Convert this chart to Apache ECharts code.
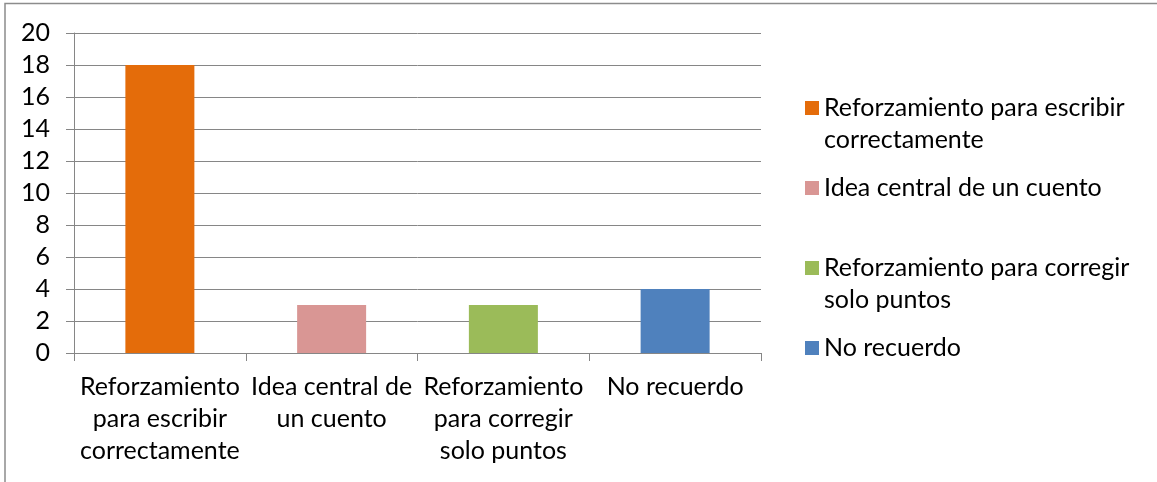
<!DOCTYPE html>
<html>
<head>
<meta charset="utf-8">
<script src="https://cdn.jsdelivr.net/npm/echarts@6/dist/echarts.min.js"></script>
<style>
  html, body { margin: 0; padding: 0; background: #fff; }
  #chart { width: 1157px; height: 482px; }
</style>
</head>
<body>
<div id="chart"></div>
<script>
// datos del grafico
var categories = ['Reforzamiento\npara escribir\ncorrectamente', 'Idea central de\nun cuento', 'Reforzamiento\npara corregir\nsolo puntos', 'No recuerdo'];
var seriesNames = ['Reforzamiento para escribir correctamente', 'Idea central de un cuento', 'Reforzamiento para corregir solo puntos', 'No recuerdo'];
// leyenda: primera linea junto al cuadro, segunda linea debajo
var legendLine1 = ['Reforzamiento para escribir', 'Idea central de un cuento', 'Reforzamiento para corregir', 'No recuerdo'];
var legendLine2 = ['correctamente', '', 'solo puntos', ''];
var values = [18, 3, 3, 4];
var colors = ['#E46C0A', '#D99694', '#9BBB59', '#4F81BD'];

var FONT = 'Lato';
var FS = 25;
var LH = 32;
var LEG_LEFT = 805;
var LEG_ICON = 14;

var chart = echarts.init(document.getElementById('chart'));

// una serie por categoria, para que cada barra tenga su color y su leyenda
var series = [];
for (var i = 0; i < categories.length; i++) {
    var d = [];
    for (var j = 0; j < categories.length; j++) {
        d.push(i == j ? values[i] : '-');
    }
    series.push({
        name: seriesNames[i],
        type: 'bar',
        data: d,
        barWidth: 69,
        barGap: '-100%',
        itemStyle: { color: colors[i] },
        animation: false
    });
}

// leyendas separadas, una por elemento (centro del cuadro cada 80px)
var legendCenters = [108, 188, 268, 348];
var legends = [];
var graphics = [{
    type: 'rect',
    shape: { x: 5, y: 3.5, width: 1200, height: 600 },
    style: { fill: 'none', stroke: '#8c8c8c', lineWidth: 1.5 },
    silent: true
}];
for (var k = 0; k < seriesNames.length; k++) {
    legends.push({
        orient: 'vertical',
        left: LEG_LEFT,
        top: legendCenters[k] - LH / 2,
        padding: 0,
        itemWidth: LEG_ICON,
        itemHeight: LEG_ICON,
        icon: 'rect',
        selectedMode: false,
        data: [seriesNames[k]],
        formatter: (function (idx) {
            return function () { return legendLine1[idx]; };
        })(k),
        textStyle: { fontFamily: FONT, fontSize: FS, lineHeight: LH, color: '#000' }
    });
    if (legendLine2[k]) {
        graphics.push({
            type: 'text',
            left: LEG_LEFT + LEG_ICON + 5,
            top: legendCenters[k] + LH / 2,
            style: {
                text: legendLine2[k],
                fontFamily: FONT, fontSize: FS, lineHeight: LH,
                fill: '#000'
            },
            silent: true
        });
    }
}

var option = {
    backgroundColor: '#fff',
    animation: false,
    grid: { left: 74, top: 33, width: 687, height: 320 },
    legend: legends,
    xAxis: {
        type: 'category',
        data: categories,
        axisLine: { lineStyle: { color: '#868686', width: 1 } },
        axisTick: { show: true, length: 8, lineStyle: { color: '#868686' } },
        axisLabel: {
            margin: 18,
            fontFamily: FONT,
            fontSize: FS,
            lineHeight: LH,
            color: '#000',
            interval: 0,
            align: 'center'
        }
    },
    yAxis: {
        type: 'value',
        min: 0,
        max: 20,
        interval: 2,
        axisLine: { show: true, lineStyle: { color: '#868686', width: 1 } },
        axisTick: { show: true, length: 8, lineStyle: { color: '#868686' } },
        splitLine: { lineStyle: { color: '#868686', width: 1 } },
        axisLabel: {
            margin: 24,
            fontFamily: FONT,
            fontSize: FS,
            color: '#000'
        }
    },
    graphic: graphics,
    series: series
};

chart.setOption(option);
</script>
</body>
</html>
